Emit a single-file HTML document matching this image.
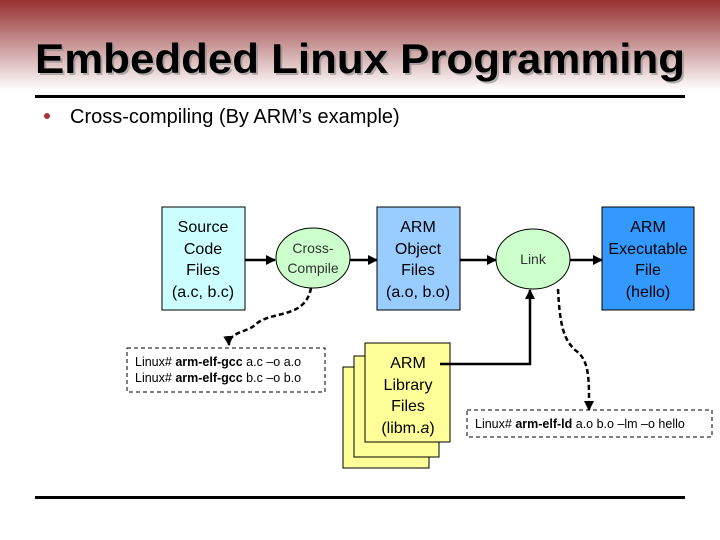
<!DOCTYPE html>
<html><head><meta charset="utf-8"><style>
html,body{margin:0;padding:0;background:#fff}
svg{display:block;font-family:"Liberation Sans",Arial,sans-serif}
</style></head><body>
<svg width="720" height="540" viewBox="0 0 720 540" xmlns="http://www.w3.org/2000/svg">
<defs>
<linearGradient id="g" x1="0" y1="0" x2="0" y2="1">
<stop offset="0" stop-color="#983030"/>
<stop offset="0.35" stop-color="#b87878"/>
<stop offset="1" stop-color="#ffffff"/>
</linearGradient>
<marker id="a" viewBox="0 0 10 10" refX="9" refY="5" markerWidth="4" markerHeight="4" orient="auto"><path d="M0,0L10,5L0,10z" fill="#000"/></marker>
</defs>
<rect x="0" y="0" width="720" height="90" fill="url(#g)"/>
<text x="37" y="75" font-size="42" font-weight="bold" fill="#888" opacity="0.6" textLength="650" lengthAdjust="spacingAndGlyphs">Embedded Linux Programming</text>
<text x="35" y="73" font-size="42" font-weight="bold" fill="#000" textLength="650" lengthAdjust="spacingAndGlyphs">Embedded Linux Programming</text>
<rect x="35" y="95" width="650" height="3" fill="#000"/>
<circle cx="47" cy="116" r="3" fill="#a33"/>
<text x="70" y="123" font-size="20" fill="#000">Cross-compiling (By ARM’s example)</text>

<g font-size="16" text-anchor="middle" fill="#000">
<rect x="162" y="207" width="83" height="103" fill="#ccffff" stroke="#000"/>
<text x="203" y="232">Source</text><text x="203" y="254">Code</text><text x="203" y="275">Files</text><text x="203" y="297">(a.c, b.c)</text>

<rect x="377" y="207" width="83" height="103" fill="#99ccff" stroke="#000"/>
<text x="418" y="232">ARM</text><text x="418" y="254">Object</text><text x="418" y="275">Files</text><text x="418" y="297">(a.o, b.o)</text>

<rect x="602" y="207" width="92" height="103" fill="#3399ff" stroke="#000"/>
<text x="648" y="232">ARM</text><text x="648" y="254">Executable</text><text x="648" y="275">File</text><text x="648" y="297">(hello)</text>

<rect x="343" y="367" width="86" height="101" fill="#ffff99" stroke="#000"/>
<rect x="354" y="356" width="85" height="101" fill="#ffff99" stroke="#000"/>
<rect x="365" y="343" width="85" height="99" fill="#ffff99" stroke="#000"/>
<text x="408" y="368">ARM</text><text x="408" y="390">Library</text><text x="408" y="411">Files</text><text x="408" y="433">(libm.<tspan font-style="italic">a</tspan>)</text>
</g>

<ellipse cx="313" cy="258" rx="37" ry="30" fill="#ccffcc" stroke="#000"/>
<text x="313" y="253" font-size="14" text-anchor="middle" fill="#333">Cross-</text>
<text x="313" y="273" font-size="14" text-anchor="middle" fill="#333">Compile</text>
<ellipse cx="533" cy="259" rx="37" ry="30" fill="#ccffcc" stroke="#000"/>
<text x="533" y="264" font-size="14" text-anchor="middle" fill="#333">Link</text>

<g stroke="#000" stroke-width="2.5" fill="none">
<line x1="245" y1="260" x2="275" y2="260" marker-end="url(#a)"/>
<line x1="350" y1="260" x2="377" y2="260" marker-end="url(#a)"/>
<line x1="460" y1="260" x2="496" y2="260" marker-end="url(#a)"/>
<line x1="570" y1="260" x2="602" y2="260" marker-end="url(#a)"/>
<polyline points="440,364 530,364 530,290" marker-end="url(#a)"/>
</g>
<g stroke="#000" stroke-width="2.5" fill="none" stroke-dasharray="5,3">
<path d="M311,288 C305,320 270,310 255,325 C248,332 228,332 229,345" marker-end="url(#a)"/>
<path d="M558,289 C560,330 565,340 575,350 C590,360 589,380 589,410" marker-end="url(#a)"/>
</g>
<g stroke="#000" stroke-width="1" fill="#fff" stroke-dasharray="4,3">
<rect x="127" y="348" width="198" height="44"/>
<rect x="467" y="410" width="245" height="27"/>
</g>
<g font-size="12.5" fill="#000">
<text x="135" y="366">Linux# <tspan font-weight="bold">arm-elf-gcc</tspan> a.c –o a.o</text>
<text x="135" y="382">Linux# <tspan font-weight="bold">arm-elf-gcc</tspan> b.c –o b.o</text>
<text x="475" y="428">Linux# <tspan font-weight="bold">arm-elf-ld</tspan> a.o b.o –lm –o hello</text>
</g>
<rect x="35" y="496" width="650" height="3" fill="#000"/>
</svg>
</body></html>
